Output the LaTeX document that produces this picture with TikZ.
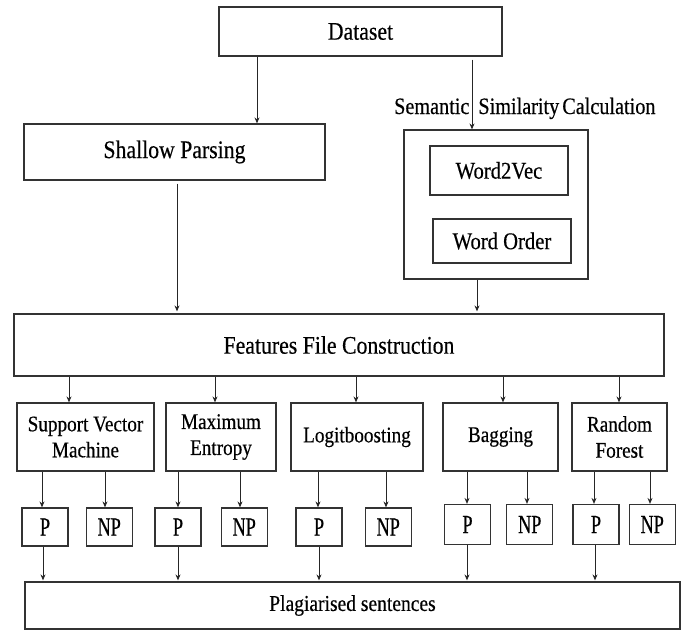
\documentclass[tikz,border=0pt]{standalone}
\usepackage{fontspec}
\setmainfont{Liberation Serif}[FakeStretch=0.86, FakeBold=0.4]
\newfontfamily\narrowfont{Liberation Serif}[FakeStretch=0.7, FakeBold=0.4]
\usetikzlibrary{arrows.meta, positioning}

\tikzset{
	block/.style = {draw = black!80, line width = 1.2pt, rectangle, inner sep = 0pt, align = center},
	line/.style = {draw = black!85, line width = 0.9pt, -{Stealth[length = 6pt, width = 5pt]}},
	large/.style = {font = \fontsize{25.3}{30}\selectfont},
	medium/.style = {font = \fontsize{24}{28}\selectfont},
	classifier/.style = {block, minimum height = 68pt, font = \fontsize{22.3}{26}\selectfont},
	outcome/.style = {block, minimum width = 46pt, minimum height = 38pt, font = \narrowfont\fontsize{26}{30}\selectfont}
}

\begin{document}
		\begin{tikzpicture}[x = 1pt, y = -1pt]
			\useasboundingbox (0,0) rectangle (688,630);
			
			\node [block, large, minimum width = 283pt, minimum height = 49pt] (data) at (360.5,31.5) {Dataset};
			\node [block, large, minimum width = 301pt, minimum height = 56pt] (shallow) at (174.5,152) {Shallow Parsing};
			\node [block, minimum width = 184pt, minimum height = 149pt] (semantic) at (496,204.5) {};
			\node [block, medium, minimum width = 138pt, minimum height = 49pt] (wordvec) at (499,170.5) {Word2Vec};
			\node [block, medium, minimum width = 138pt, minimum height = 44pt] (wordorder) at (502,241) {Word Order};
			\node [anchor = base west, inner sep = 0pt, font = \fontsize{23.5}{28}\selectfont] (simlabel) at (394,114) {Semantic\hspace{9pt}Similarity\hspace{-2pt} Calculation};
			\node [block, large, minimum width = 650pt, minimum height = 62pt] (features) at (339,345) {Features File Construction};
			
			% classifiers
			\node [classifier, minimum width = 137pt] (svm) at (85.5,437) {Support Vector\\Machine};
			\node [classifier, minimum width = 110pt] (maxent) at (221,437) {Maximum\\Entropy};
			\node [classifier, minimum width = 132pt] (logit) at (357,437) {Logitboosting};
			\node [classifier, minimum width = 115pt] (bagging) at (500.5,437) {Bagging};
			\node [classifier, minimum width = 95pt] (forest) at (619.5,437) {Random\\Forest};
			
			% P / NP
			\node [outcome] (svmP) at (45,527) {P};
			\node [outcome, right = 17pt of svmP] (svmNP) {NP};
			\node [outcome] (meP) at (178,527) {P};
			\node [outcome, right = 19pt of meP] (meNP) {NP};
			\node [outcome] (lbP) at (319,527) {P};
			\node [outcome, right = 22pt of lbP] (lbNP) {NP};
			\node [outcome, minimum height = 40pt] (bgP) at (467.5,524.5) {P};
			\node [outcome, minimum height = 40pt, right = 15pt of bgP] (bgNP) {NP};
			\node [outcome, minimum height = 40pt] (rfP) at (596,524.5) {P};
			\node [outcome, minimum height = 40pt, right = 9pt of rfP] (rfNP) {NP};
			
			\node [block, minimum width = 655pt, minimum height = 47pt, font = \fontsize{22.7}{27}\selectfont] (plag) at (352.5,605.5) {Plagiarised sentences};
			
			\path [line] (data.south -| 257,0) -- (shallow.north -| 257,0);
			\path [line, shorten <= 3pt] (data.south -| 472,0) -- (semantic.north -| 472,0);
			\path [line, shorten <= 3pt] (shallow.south -| 177,0) -- ([yshift = 2pt]features.north -| 177,0);
			\path [line] (semantic.south -| 477,0) -- ([yshift = 2pt]features.north -| 477,0);
			
			\foreach \cls/\xx in {svm/69, maxent/215, logit/356, bagging/503, forest/619}
				\path [line] (features.south -| \xx,0) -- (\cls.north -| \xx,0);
			
			\foreach \cls/\res/\xx in {svm/svmP/42, svm/svmNP/105, maxent/meP/178, maxent/meNP/240, logit/lbP/318, logit/lbNP/386, bagging/bgP/467, bagging/bgNP/527, forest/rfP/594, forest/rfNP/650}
				\path [line] (\cls.south -| \xx,0) -- (\res.north -| \xx,0);
			
			\foreach \res/\xx in {svmP/43, meP/178, lbP/319, bgP/467, rfP/595}
				\path [line, shorten >= 1pt] (\res.south -| \xx,0) -- (plag.north -| \xx,0);
		\end{tikzpicture}
\end{document}
